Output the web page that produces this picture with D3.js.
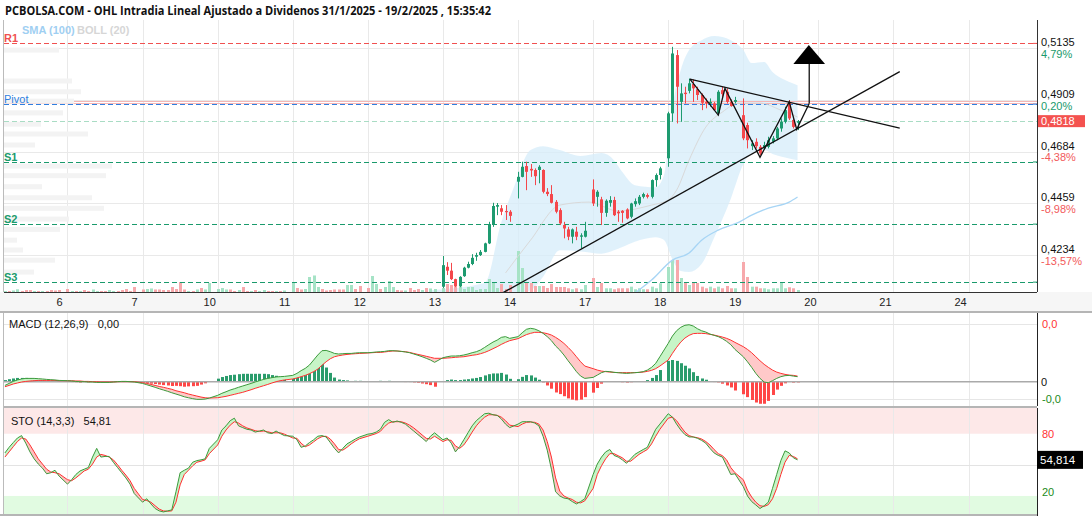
<!DOCTYPE html>
<html><head><meta charset="utf-8">
<script src="https://cdn.jsdelivr.net/npm/d3@7"></script>
<style>body{margin:0;background:#fff}svg{display:block}</style>
</head><body>
<svg id="c" width="1092" height="516"></svg>
<script>
// ---------------- DATA ----------------
const title = "PCBOLSA.COM - OHL Intradia Lineal Ajustado a Dividenos 31/1/2025 - 19/2/2025 , 15:35:42";
const sessions = ["5","6","7","10","11","12","13","14","17","18","19"];
const axisDays = ["6","7","10","11","12","13","14","17","18","19","20","21","24"];
const priceTicks = [0.4234,0.4459,0.4684,0.4909,0.5135];
const priceTickLabels = ["0,4234","0,4459","0,4684","0,4909","0,5135"];
const pctLabels = ["-13,57%","-8,98%","-4,38%","0,20%","4,79%"];
const lastPrice = 0.4818, lastPriceLabel = "0,4818";
const prevClose = 0.49;
const pivotNames = ["R1","Pivot","S1","S2","S3"];
const pivotValues = [0.5157,0.4892,0.4640,0.4369,0.4116];

// candles (open, high, low, close), sessions 13,14,17,18,19
const candleFirstSession = 6;
const candles = [
 [[.4096,.4230,.4090,.4190],[.4183,.4203,.4147,.4166],[.4166,.4200,.4125,.4129],[.4129,.4131,.4094,.4099],[.4099,.4142,.4094,.4139],[.4142,.4183,.4139,.4179],[.4179,.4205,.4176,.4195],[.4195,.4238,.4190,.4222],[.4227,.4244,.4209,.4234],[.4234,.4256,.4230,.4248],[.4248,.4288,.4246,.4285],[.4285,.4379,.4282,.4369],[.4369,.4462,.4357,.4448],[.4445,.4461,.4408,.4452],[.4438,.4452,.4408,.4423],[.4426,.4452,.4387,.4421],[.4423,.4430,.4379,.4405]],
 [[.4554,.4597,.4481,.4575],[.4575,.4641,.4573,.4619],[.4622,.4641,.4517,.4597],[.4610,.4631,.4575,.4603],[.4605,.4612,.4539,.4578],[.4605,.4626,.4547,.4619],[.4605,.4608,.4503,.4510],[.4510,.4526,.4491,.4500],[.4500,.4539,.4459,.4462],[.4466,.4474,.4416,.4423],[.4430,.4438,.4365,.4372],[.4365,.4379,.4307,.4350],[.4346,.4357,.4299,.4314],[.4314,.4350,.4285,.4346],[.4336,.4357,.4299,.4314],[.4314,.4329,.4263,.4320],[.4314,.4379,.4311,.4340]],
 [[.4520,.4564,.4448,.4459],[.4488,.4517,.4445,.4510],[.4477,.4488,.4365,.4418],[.4418,.4477,.4401,.4471],[.4462,.4491,.4445,.4474],[.4474,.4488,.4404,.4408],[.4423,.4430,.4379,.4416],[.4427,.4430,.4375,.4418],[.4433,.4438,.4390,.4394],[.4401,.4462,.4394,.4459],[.4456,.4481,.4445,.4469],[.4459,.4496,.4452,.4488],[.4488,.4506,.4481,.4500],[.4496,.4503,.4481,.4488],[.4488,.4564,.4481,.4561],[.4561,.4590,.4532,.4583],[.4583,.4619,.4564,.4612]],
 [[.4656,.4859,.4619,.4852],[.4852,.5142,.4815,.5113],[.5106,.5128,.4808,.4968],[.4902,.4983,.4815,.4939],[.4942,.4968,.4895,.4936],[.4950,.5004,.4939,.4983],[.4980,.5000,.4902,.4961],[.4957,.4968,.4910,.4932],[.4932,.4939,.4866,.4898],[.4902,.4917,.4874,.4895],[.4895,.4917,.4881,.4902],[.4895,.4902,.4863,.4866],[.4852,.4953,.4844,.4946],[.4953,.4968,.4917,.4936],[.4946,.4961,.4895,.4902],[.4902,.4913,.4881,.4884],[.4902,.4924,.4895,.4910]],
 [[.4844,.4917,.4735,.4743],[.4801,.4811,.4699,.4735],[.4709,.4735,.4692,.4721],[.4728,.4743,.4699,.4709],[.4706,.4714,.4670,.4677],[.4699,.4728,.4695,.4714],[.4706,.4750,.4699,.4735],[.4728,.4753,.4721,.4743],[.4743,.4793,.4735,.4786],[.4786,.4830,.4772,.4815],[.4815,.4881,.4808,.4866],[.4895,.4910,.4823,.4830],[.4823,.4830,.4786,.4793],[.4811,.4823,.4779,.4818]]
];

// volume per bar (thousand shares)
const volumes = [
 [25,25,38,68,25,50,50,25,25,25,25,50,38,50],
 [75,25,25,25,50,25,63,25,25,25,50,25,25,50,75,25,125],
 [63,75,88,63,63,50,50,125,75,250,63,25,25,63,100,63,225],
 [75,100,63,63,25,50,125,25,25,50,25,50,25,25,25,25,38],
 [250,100,63,75,375,413,125,75,38,50,63,63,63,175,175,75,150],
 [100,400,200,75,125,275,125,50,38,38,100,50,75,50,100,88,75],
 [100,200,175,150,175,75,125,125,50,75,75,325,250,100,200,75,175],
 [1025,600,225,225,150,150,150,100,200,125,125,125,93,68,93,68,175],
 [350,125,225,93,93,68,93,93,93,133,68,93,68,68,133,93,218],
 [625,800,800,350,225,175,250,225,133,93,133,93,133,93,150,93,93],
 [750,375,133,133,93,93,68,93,93,225,93,118,93,50]
];
const volumeDirEarly = ["grggrrrgrgrrrr","rgrgrrggrrggrrrrr","rggrrrrrrrrgrgrgg","gggrrgrrgrggrrgrg","grrggggrrrrrrggrr","rggrgggrrgrrrgrgg"];

const macdLine = [
 [-0.00026,-0.00012,0.00002,0.00012,0.00019,0.00023,0.00023,0.00023,0.00021,0.00019,0.00016,0.00014,0.00012,0.00009],
 [0.00007,0.00005,0.00002,0,0,-0.00002,-0.00002,-0.00005,-0.00005,-0.00005,-0.00005,-0.00002,0,0.00002,0.00002,0,-0.00002],
 [-0.00012,-0.00021,-0.00030,-0.00039,-0.00049,-0.00058,-0.00067,-0.00077,-0.00086,-0.00095,-0.00105,-0.00112,-0.00118,-0.00123,-0.00123,-0.00121,-0.00114],
 [-0.00095,-0.00081,-0.00070,-0.00058,-0.00049,-0.00039,-0.00030,-0.00021,-0.00012,-0.00002,0.00007,0.00016,0.00023,0.00028,0.00033,0.00035,0.00037],
 [0.00044,0.00058,0.00077,0.00093,0.00116,0.00151,0.00186,0.00216,0.00218,0.00209,0.00197,0.00193,0.00195,0.00197,0.00197,0.00200,0.00202],
 [0.00202,0.00204,0.00207,0.00209,0.00211,0.00216,0.00216,0.00214,0.00211,0.00207,0.00202,0.00193,0.00184,0.00174,0.00163,0.00151,0.00135],
 [0.00167,0.00174,0.00179,0.00179,0.00181,0.00186,0.00193,0.00202,0.00209,0.00221,0.00239,0.00258,0.00276,0.00290,0.00309,0.00314,0.00302],
 [0.00314,0.00341,0.00365,0.00372,0.00367,0.00355,0.00337,0.00314,0.00286,0.00249,0.00221,0.00186,0.00146,0.00109,0.00070,0.00039,0.00023],
 [0.00030,0.00046,0.00063,0.00072,0.00070,0.00065,0.00063,0.00060,0.00058,0.00060,0.00063,0.00065,0.00070,0.00081,0.00100,0.00128,0.00174],
 [0.00267,0.00318,0.00355,0.00379,0.00393,0.00397,0.00388,0.00369,0.00355,0.00346,0.00332,0.00323,0.00314,0.00300,0.00281,0.00258,0.00225],
 [0.00174,0.00139,0.00100,0.00058,0.00023,-0.00002,-0.00007,0.00007,0.00023,0.00035,0.00042,0.00044,0.00039,0.00035]
];
const signalLine = [
 [-0.00035,-0.00026,-0.00016,-0.00009,-0.00002,0.00002,0.00005,0.00007,0.00009,0.00009,0.00009,0.00009,0.00009,0.00007],
 [0.00007,0.00007,0.00005,0.00005,0.00002,0.00002,0,0,-0.00002,-0.00002,-0.00002,-0.00002,0,0,0,0,0],
 [-0.00007,-0.00012,-0.00019,-0.00026,-0.00033,-0.00039,-0.00046,-0.00053,-0.00063,-0.00070,-0.00077,-0.00086,-0.00093,-0.00100,-0.00107,-0.00112,-0.00114],
 [-0.00112,-0.00107,-0.00102,-0.00095,-0.00088,-0.00081,-0.00074,-0.00065,-0.00056,-0.00046,-0.00037,-0.00028,-0.00019,-0.00009,0,0.00007,0.00012],
 [0.00019,0.00026,0.00035,0.00044,0.00056,0.00070,0.00088,0.00114,0.00139,0.00160,0.00174,0.00181,0.00186,0.00190,0.00193,0.00195,0.00197],
 [0.00200,0.00202,0.00204,0.00204,0.00207,0.00211,0.00214,0.00214,0.00211,0.00209,0.00204,0.00197,0.00190,0.00184,0.00177,0.00170,0.00163],
 [0.00163,0.00165,0.00167,0.00170,0.00172,0.00174,0.00179,0.00184,0.00188,0.00195,0.00204,0.00216,0.00230,0.00244,0.00260,0.00274,0.00286],
 [0.00300,0.00314,0.00328,0.00337,0.00344,0.00344,0.00341,0.00335,0.00325,0.00309,0.00290,0.00267,0.00239,0.00209,0.00174,0.00139,0.00109],
 [0.00091,0.00081,0.00074,0.00070,0.00067,0.00065,0.00063,0.00063,0.00063,0.00063,0.00063,0.00065,0.00067,0.00072,0.00079,0.00091,0.00109],
 [0.00151,0.00197,0.00239,0.00276,0.00304,0.00323,0.00335,0.00337,0.00337,0.00335,0.00330,0.00325,0.00318,0.00311,0.00302,0.00290,0.00274],
 [0.00244,0.00225,0.00202,0.00174,0.00146,0.00121,0.00100,0.00081,0.00067,0.00058,0.00051,0.00046,0.00044,0.00039]
];
const stoK = [
 [61.5,66.9,71.5,75.9,78.2,70.9,62.5,55.8,50.8,46.8,41.4,42.4,44.8,39.1],
 [31.4,35.7,40.7,44.1,45.8,47.4,57.5,65.9,57.5,58.1,58.1,52.5,47.4,42.4,37.4,31.4,22.3],
 [14.0,17.3,12.3,7.9,5.6,4.6,5.6,6.6,24.0,42.4,44.8,46.8,52.5,54.1,54.8,55.8,65.9],
 [74.2,83.6,87.6,92.6,95.0,87.6,85.9,84.3,83.6,81.6,82.6,83.6,80.9,80.2,82.6,80.2,78.2],
 [77.6,74.2,66.9,68.2,71.5,74.2,77.6,78.2,76.9,71.5,65.9,61.5,65.9,70.2,72.5,74.9,76.9],
 [79.6,80.2,81.6,84.3,91.0,93.6,91.0,92.3,91.0,89.3,85.9,82.6,79.2,75.9,72.5,77.6,80.9],
 [74.2,75.9,70.9,62.5,67.5,74.2,80.9,87.6,92.6,96.0,99.3,99.8,98.3,97.7,94.3,89.3,85.9],
 [89.3,91.6,91.6,91.6,90.3,87.6,77.6,64.2,45.8,24.0,20.0,18.0,17.3,14.6,12.3,14.6,17.3],
 [40.7,50.8,57.5,62.5,64.8,59.1,57.5,54.8,51.5,55.8,60.1,62.5,64.8,66.9,75.9,84.3,89.3],
 [99.3,96.0,89.3,83.6,79.2,76.9,76.9,75.6,73.6,70.9,65.9,61.5,59.1,57.5,49.1,40.7,41.4],
 [29.0,20.0,14.6,11.3,7.9,10.6,14.0,27.3,40.7,54.1,63.5,61.5,56.8,54.81]
];
const stoD = [
 [57.5,62.5,67.5,72.5,75.9,74.9,69.2,62.5,55.8,50.8,45.8,43.1,42.4,41.4],
 [35.7,34.7,37.4,40.7,44.1,45.8,50.8,57.5,60.1,59.1,57.5,54.8,50.1,44.8,40.1,34.7,27.3],
 [16.6,15.6,14.0,10.6,7.3,5.6,5.3,5.6,14.0,30.7,40.7,44.8,49.1,52.5,53.5,54.8,60.8],
 [69.2,77.6,83.6,88.3,91.6,90.3,87.6,85.6,84.3,82.9,82.3,82.6,81.9,80.9,80.9,80.9,79.6],
 [75.9,75.6,70.9,67.5,69.2,72.2,75.2,77.2,77.6,74.9,70.2,64.8,64.2,66.9,70.2,72.9,75.2],
 [77.6,78.9,80.2,82.3,86.9,90.3,91.6,91.6,91.6,90.3,88.3,85.6,82.3,78.9,75.6,74.9,77.6],
 [72.5,74.2,73.6,68.2,65.9,69.2,74.9,81.6,87.6,92.3,96.0,98.3,98.3,97.7,96.0,92.6,88.3],
 [86.9,89.3,91.0,91.3,91.0,89.3,83.6,72.5,57.5,37.4,24.7,20.0,18.0,16.6,14.0,13.3,15.3],
 [27.3,40.7,49.1,55.8,60.8,60.8,58.8,56.8,53.5,53.5,56.8,60.1,62.5,64.8,70.2,77.6,84.3],
 [95.0,96.0,92.6,86.9,81.6,78.2,76.9,76.2,74.9,72.5,69.2,64.8,60.8,58.8,54.8,47.4,42.4],
 [35.7,25.7,19.0,14.0,10.6,9.9,11.6,17.3,27.3,40.7,52.5,59.1,58.1,55.8]
];
const macdLabelValue = "0,00", stoLabelValue = "54,81", stoLastLabel = "54,814";

// Bollinger (20) read at bar slots
const bollSlots = [87,100,104,107,111,114,118,123,128,131,133,136,141,143,145,147,149,152,155,159,162,164,167,169,172,175];
const bollUpper = [.4081,.4112,.4378,.4530,.4692,.4709,.4692,.4666,.4679,.4648,.4596,.4539,.4530,.4583,.4879,.5041,.5128,.5171,.5189,.5171,.5128,.5071,.5076,.5032,.4997,.4975];
const bollLower = [.3994,.4038,.4050,.4065,.4081,.4140,.4255,.4250,.4240,.4255,.4269,.4292,.4312,.4300,.4215,.4165,.4160,.4195,.4310,.4480,.4630,.4679,.4692,.4675,.4660,.4648];
const bollMidSlots = [105,111,118,125,132,140,144,146,149,153,157,161,166,171,175];
const bollMid = [.4156,.4299,.4452,.4465,.4426,.4452,.4474,.4517,.4648,.4792,.4858,.4897,.4897,.4866,.4836];
const smaSlots = [136,140,145,149,152,156,161,164,168,173,175];
const sma100 = [.4068,.4125,.4212,.4243,.4299,.4343,.4378,.4408,.4439,.4465,.4487];

// volume-by-price profile
const profilePrices = [.5128,.4993,.4946,.4905,.4854,.4805,.4762,.4714,.4622,.4580,.4532,.4484,.4438,.4391,.4346,.4299,.4256,.4212,.4160];
const profileVolumes = [550,680,770,700,590,370,840,310,1080,1020,380,880,1000,650,560,130,190,510,300];

// drawn annotations (bar slot, price)
const trendUp = [[104.1,.4067],[199.5,.5034]];
const trendDown = [[149.2,.5001],[199.5,.4788]];
const zigzag = [[149.2,.5001],[156.0,.4844],[157.6,.4961],[166.0,.4660],[173.0,.4902],[174.8,.4782],[177.8,.4895]];
const arrowShaft = [[177.8,.4895],[177.8,.5067]];
const arrowHead = [[174.0,.5067],[181.6,.5067],[177.7,.5150]];

// ---------------- CHART ----------------
const GREEN="#1e9b70", RED="#f4474b", VGREEN="#a6e3c6", VRED="#f7a9ac";
const svg = d3.select("#c");
const FONT = "'Liberation Sans', Arial, sans-serif";
const NARROW = "'Liberation Sans Narrow','Arial Narrow',"+FONT;
const X0=4, X1=1037, MT=20, MB=292;
const x = d3.scaleLinear().domain([-15.22,232.4]).range([X0,X1]);
const y = d3.scaleLinear().domain([0.4073,0.5259]).range([MB,MT]);
const yVol = d3.scaleLinear().domain([0,1000]).range([MB,MB-40]);
const xProf = d3.scaleLinear().domain([0,1000]).range([X0,X0+100]);
const MT2=313, MB2=406;
const yM = d3.scaleLinear().domain([-0.001693,0.004787]).range([MB2,MT2]);
const yHist = d3.scaleLinear().domain([-0.001693/1.25,0.004787/1.25]).range([MB2,MT2]);
const MT3=408, MB3=514;
const yS = d3.scaleLinear().domain([0,100]).range([516.7,413]);

// bars
const bars=[];
sessions.forEach((s,k)=>{
  const n=macdLine[k].length, off = k===0 ? 17-n : 0;
  for(let i=0;i<n;i++){
    const slot=(k-1)*18+off+i;
    const bar={k,i,slot,macd:macdLine[k][i],sig:signalLine[k][i],K:stoK[k][i],D:stoD[k][i],vol:volumes[k][i]};
    if(k>=candleFirstSession){const c=candles[k-candleFirstSession][i];bar.o=c[0];bar.h=c[1];bar.l=c[2];bar.c=c[3];bar.up=bar.c>=bar.o;}
    else bar.up = volumeDirEarly[k][i]==="g";
    bars.push(bar);
  }
});
const candleBars = bars.filter(b=>b.o!==undefined);

const defs=svg.append("defs");
defs.append("clipPath").attr("id","mainClip").append("rect").attr("x",X0).attr("y",MT).attr("width",X1-X0).attr("height",MB-MT);
defs.append("clipPath").attr("id","stoClip").append("rect").attr("x",X0).attr("y",MT3).attr("width",X1-X0).attr("height",MB3-MT3);

// title
svg.append("text").attr("x",5).attr("y",15).text(title)
  .attr("font-family","'Open Sans', 'Noto Sans', sans-serif").attr("font-weight","bold").attr("font-size",12).attr("fill","#111")
  .attr("textLength",486).attr("lengthAdjust","spacingAndGlyphs");

const daySlots = axisDays.map((d,i)=>i*18);

// ---------- main panel ----------
const main = svg.append("g").attr("clip-path","url(#mainClip)");
main.selectAll(".vg").data(daySlots).join("line").attr("x1",d=>Math.round(x(d))+.5).attr("x2",d=>Math.round(x(d))+.5)
  .attr("y1",MT).attr("y2",MB).attr("stroke","#e9e9e9");
main.selectAll(".hg").data(priceTicks).join("line").attr("x1",X0).attr("x2",X1).attr("y1",d=>Math.round(y(d))+.5).attr("y2",d=>Math.round(y(d))+.5).attr("stroke","#e9e9e9");

// bollinger band
const bollData = bollSlots.map((s,i)=>({s,u:bollUpper[i],l:bollLower[i]}));
main.append("path").datum(bollData).attr("fill","#d6ecfa").attr("fill-opacity",0.75)
  .attr("d",d3.area().x(d=>x(d.s)).y0(d=>y(d.l)).y1(d=>y(d.u)).curve(d3.curveMonotoneX));

// prev close line
const pcY = Math.round(y(prevClose));
main.append("line").attr("x1",X0).attr("x2",X1).attr("y1",pcY-0.5).attr("y2",pcY-0.5).attr("stroke","#f4b6b6").attr("stroke-width",1);
main.append("line").attr("x1",X0).attr("x2",X1).attr("y1",pcY+1.5).attr("y2",pcY+1.5).attr("stroke","#f4b6b6").attr("stroke-width",1);

// profile
main.selectAll(".pf").data(profilePrices).join("rect").attr("x",X0).attr("y",d=>y(d)-2.5).attr("height",5)
  .attr("width",(d,i)=>xProf(profileVolumes[i])-X0).attr("fill","#f3f3f3");

// volume
main.selectAll(".vol").data(bars).join("rect").attr("x",d=>Math.round(x(d.slot))-1).attr("width",3)
  .attr("y",d=>yVol(d.vol)).attr("height",d=>MB-yVol(d.vol)).attr("fill",d=>d.up?VGREEN:VRED);

// pivot lines
const pivColor = (n)=> n==="R1" ? "#f05050" : n==="Pivot" ? "#2f7fe0" : "#1a9a6c";
main.selectAll(".piv").data(pivotValues).join("line").attr("x1",X0).attr("x2",X1)
  .attr("y1",d=>Math.round(y(d))+.5).attr("y2",d=>Math.round(y(d))+.5)
  .attr("stroke",(d,i)=>pivColor(pivotNames[i])).attr("stroke-dasharray","5,3").attr("stroke-width",1);
main.append("line").attr("x1",X0).attr("x2",X1).attr("y1",Math.round(y(lastPrice))+.5).attr("y2",Math.round(y(lastPrice))+.5)
  .attr("stroke","#a9dcc4").attr("stroke-dasharray","5,3");

// boll middle & sma
main.append("path").datum(bollMidSlots.map((s,i)=>[s,bollMid[i]])).attr("fill","none").attr("stroke","#d9d9d9").attr("stroke-width",1)
  .attr("d",d3.line().x(d=>x(d[0])).y(d=>y(d[1])).curve(d3.curveMonotoneX));
main.append("path").datum(smaSlots.map((s,i)=>[s,sma100[i]])).attr("fill","none").attr("stroke","#a7d5f5").attr("stroke-width",1.3)
  .attr("d",d3.line().x(d=>x(d[0])).y(d=>y(d[1])).curve(d3.curveMonotoneX));

// candles
const cg = main.append("g");
cg.selectAll("line").data(candleBars).join("line").attr("x1",d=>Math.round(x(d.slot))+.5).attr("x2",d=>Math.round(x(d.slot))+.5)
  .attr("y1",d=>y(d.h)).attr("y2",d=>y(d.l)).attr("stroke",d=>d.up?GREEN:RED);
cg.selectAll("rect").data(candleBars).join("rect").attr("x",d=>Math.round(x(d.slot))-1).attr("width",3)
  .attr("y",d=>y(Math.max(d.o,d.c))).attr("height",d=>Math.max(1,Math.abs(y(d.o)-y(d.c)))).attr("fill",d=>d.up?GREEN:RED);

// annotations
const ln = d3.line().x(d=>x(d[0])).y(d=>y(d[1]));
[trendUp,trendDown,zigzag,arrowShaft].forEach(p=>svg.append("path").datum(p).attr("d",ln).attr("fill","none").attr("stroke","#111").attr("stroke-width",1.3));
svg.append("path").datum(arrowHead).attr("d",d=>ln(d)+"Z").attr("fill","#000");

// pivot labels
svg.selectAll(".pl").data(pivotNames).join("text").attr("x",4).attr("y",(d,i)=>y(pivotValues[i])-1).text(d=>d)
  .attr("font-family",FONT).attr("font-size",11).attr("font-weight",(d)=>d==="Pivot"?"normal":"bold").attr("fill",d=>pivColor(d));
svg.append("text").attr("x",22).attr("y",34).text("SMA (100)").attr("font-family",FONT).attr("font-size",11).attr("font-weight","bold").attr("fill","#9fcff2");
svg.append("text").attr("x",77).attr("y",34).text("BOLL (20)").attr("font-family",FONT).attr("font-size",11).attr("font-weight","bold").attr("fill","#d6d6d6");

// right axis main
svg.append("line").attr("x1",X1+.5).attr("x2",X1+.5).attr("y1",MT).attr("y2",MB).attr("stroke","#333");
svg.append("line").attr("x1",X0-.5).attr("x2",X0-.5).attr("y1",MT).attr("y2",515).attr("stroke","#bbb");
svg.selectAll(".tl").data(priceTicks).join("text").attr("x",X1+4).attr("y",d=>y(d)-2).text((d,i)=>priceTickLabels[i])
  .attr("font-family",FONT).attr("font-size",11).attr("fill","#111");
svg.selectAll(".tp").data(priceTicks).join("text").attr("x",X1+4).attr("y",d=>y(d)+9.5).text((d,i)=>pctLabels[i])
  .attr("font-family",FONT).attr("font-size",11).attr("fill",(d,i)=>pctLabels[i].startsWith("-")?"#f25a5a":"#1a9a6c");
svg.selectAll(".ptk").data(pivotValues).join("line").attr("x1",X1-4).attr("x2",X1).attr("y1",d=>y(d)).attr("y2",d=>y(d)).attr("stroke",(d,i)=>pivColor(pivotNames[i]));
const lpY = y(lastPrice);
svg.append("rect").attr("x",X1+1).attr("y",lpY-6).attr("width",47).attr("height",12).attr("fill","#f4524f");
svg.append("text").attr("x",X1+4).attr("y",lpY+4).text(lastPriceLabel).attr("font-family",FONT).attr("font-size",11).attr("fill","#fff");

// x axis strip
svg.append("rect").attr("x",0).attr("y",MB).attr("width",1092).attr("height",20).attr("fill","#f6f6f6");
svg.append("line").attr("x1",X0).attr("x2",X1).attr("y1",MB+.5).attr("y2",MB+.5).attr("stroke","#333");
svg.append("rect").attr("x",0).attr("y",311).attr("width",1092).attr("height",2).attr("fill","#b5b5b5");
svg.selectAll(".xl").data(axisDays).join("text").attr("x",(d,i)=>x(daySlots[i])-8).attr("y",306).attr("text-anchor","middle")
  .text(d=>d).attr("font-family",FONT).attr("font-size",11).attr("fill","#222");

// ---------- MACD ----------
const mg = svg.append("g");
mg.selectAll(".vg").data(daySlots).join("line").attr("x1",d=>Math.round(x(d))+.5).attr("x2",d=>Math.round(x(d))+.5).attr("y1",MT2).attr("y2",MB2).attr("stroke","#e9e9e9");
[0.004,-0.0012].forEach(v=>mg.append("line").attr("x1",X0).attr("x2",X1).attr("y1",Math.round(yM(v))+.5).attr("y2",Math.round(yM(v))+.5).attr("stroke","#e6e6e6"));
mg.selectAll(".hb").data(bars).join("rect").attr("x",d=>Math.round(x(d.slot))-1).attr("width",3)
  .attr("y",d=>Math.min(yHist(0),yHist(d.macd-d.sig))).attr("height",d=>Math.abs(yHist(d.macd-d.sig)-yHist(0)))
  .attr("fill",d=>d.macd>=d.sig?"#2a9c6c":"#ff4646");
mg.append("line").attr("x1",X0).attr("x2",X1).attr("y1",yM(0)).attr("y2",yM(0)).attr("stroke","#aaa").attr("stroke-width",1.5);

function crossFill(g, data, fa, fb, ys, top, bot, id, cUp, cDn){
  const above = d3.area().x(d=>x(d.slot)).y0(top).y1(d=>ys(fb(d)));
  const below = d3.area().x(d=>x(d.slot)).y0(bot).y1(d=>ys(fb(d)));
  defs.append("clipPath").attr("id",id+"A").append("path").datum(data).attr("d",above);
  defs.append("clipPath").attr("id",id+"B").append("path").datum(data).attr("d",below);
  const between = d3.area().x(d=>x(d.slot)).y0(d=>ys(fb(d))).y1(d=>ys(fa(d)));
  g.append("path").datum(data).attr("d",between).attr("fill",cUp).attr("clip-path",`url(#${id}A)`);
  g.append("path").datum(data).attr("d",between).attr("fill",cDn).attr("clip-path",`url(#${id}B)`);
}
crossFill(mg,bars,d=>d.macd,d=>d.sig,yM,MT2,MB2,"mc","#c7f5c7","#ffc9c9");
mg.append("path").datum(bars).attr("fill","none").attr("stroke","#ff3030").attr("stroke-width",1)
  .attr("d",d3.line().x(d=>x(d.slot)).y(d=>yM(d.sig)));
mg.append("path").datum(bars).attr("fill","none").attr("stroke","#3c9a3c").attr("stroke-width",1)
  .attr("d",d3.line().x(d=>x(d.slot)).y(d=>yM(d.macd)));
svg.append("line").attr("x1",X1+.5).attr("x2",X1+.5).attr("y1",MT2).attr("y2",MB2).attr("stroke","#222");
svg.append("text").attr("x",9).attr("y",328).text("MACD (12,26,9)   "+macdLabelValue).attr("xml:space","preserve")
  .attr("font-family",NARROW).attr("font-size",11).attr("fill","#111");
svg.append("text").attr("x",X1+5).attr("y",yM(0.004)+4).text("0,0").attr("font-family",NARROW).attr("font-size",11).attr("fill","#f33");
svg.append("text").attr("x",X1+4).attr("y",yM(0)+4).text("0").attr("font-family",NARROW).attr("font-size",11).attr("fill","#111");
svg.append("text").attr("x",X1+5).attr("y",yM(-0.0012)+4).text("-0,0").attr("font-family",NARROW).attr("font-size",11).attr("fill","#1a8a1a");

// ---------- STO ----------
svg.append("rect").attr("x",X0).attr("y",MB2).attr("width",X1-X0).attr("height",2).attr("fill","#b5b5b5");
const sg = svg.append("g").attr("clip-path","url(#stoClip)");
sg.append("rect").attr("x",X0).attr("y",MT3).attr("width",X1-X0).attr("height",yS(80)-MT3).attr("fill","#fde8e8");
sg.append("rect").attr("x",X0).attr("y",yS(20)).attr("width",X1-X0).attr("height",MB3-yS(20)).attr("fill","#e1fbe1");
sg.selectAll(".vg").data(daySlots).join("line").attr("x1",d=>Math.round(x(d))+.5).attr("x2",d=>Math.round(x(d))+.5).attr("y1",MT3).attr("y2",MB3).attr("stroke","#e9e9e9");
sg.append("line").attr("x1",X0).attr("x2",X1).attr("y1",Math.round(yS(50))+.5).attr("y2",Math.round(yS(50))+.5).attr("stroke","#e3e3e3");
crossFill(sg,bars,d=>d.K,d=>d.D,yS,MT3,MB3,"st","#c7f5c7","#ffc0c0");
sg.append("path").datum(bars).attr("fill","none").attr("stroke","#ff3030").attr("stroke-width",1)
  .attr("d",d3.line().x(d=>x(d.slot)).y(d=>yS(d.D)));
sg.append("path").datum(bars).attr("fill","none").attr("stroke","#3c9a3c").attr("stroke-width",1)
  .attr("d",d3.line().x(d=>x(d.slot)).y(d=>yS(d.K)));
svg.append("rect").attr("x",0).attr("y",MB3).attr("width",X1+1).attr("height",2).attr("fill","#b5b5b5");
svg.append("line").attr("x1",X1+.5).attr("x2",X1+.5).attr("y1",MT3).attr("y2",516).attr("stroke","#222");
svg.append("text").attr("x",11).attr("y",425).text("STO (14,3,3)   "+stoLabelValue).attr("xml:space","preserve")
  .attr("font-family",NARROW).attr("font-size",11).attr("fill","#111");
svg.append("text").attr("x",X1+5).attr("y",yS(80)+4).text("80").attr("font-family",NARROW).attr("font-size",11).attr("fill","#f33");
svg.append("text").attr("x",X1+5).attr("y",yS(20)).text("20").attr("font-family",NARROW).attr("font-size",11).attr("fill","#1a8a1a");
const lastK = stoK[stoK.length-1][stoK[stoK.length-1].length-1];
svg.append("rect").attr("x",X1).attr("y",yS(lastK)-9).attr("width",46).attr("height",18).attr("fill","#000");
svg.append("text").attr("x",X1+3).attr("y",yS(lastK)+4).text(stoLastLabel).attr("font-family",NARROW).attr("font-size",11.5).attr("fill","#fff");
</script>
</body></html>
